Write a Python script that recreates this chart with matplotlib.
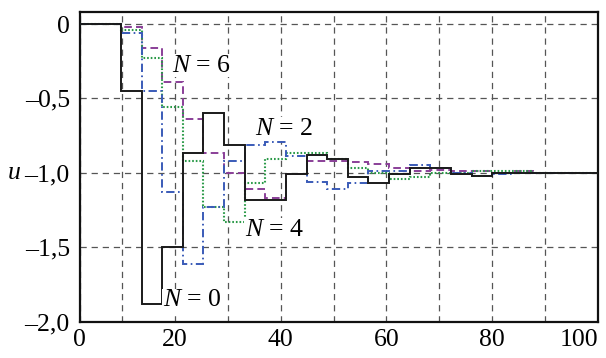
import matplotlib
matplotlib.use("Agg")
import matplotlib.pyplot as plt

plt.rcParams['font.family'] = 'Liberation Serif'
plt.rcParams['mathtext.fontset'] = 'custom'
plt.rcParams['mathtext.rm'] = 'Liberation Serif'
plt.rcParams['mathtext.it'] = 'Liberation Serif:italic'
plt.rcParams['lines.scale_dashes'] = False

# step edges (time) shared by all curves
edges = [2.0, 9.8, 13.7, 17.6, 21.5, 25.4, 29.3, 33.2, 37.1, 41.0, 44.9, 48.8,
         52.7, 56.6, 60.5, 64.4, 68.3, 72.2, 76.1, 80.0, 83.9, 87.8, 91.7, 95.6, 100.0]

u_n0 = [0, -0.45, -1.88, -1.50, -0.87, -0.60, -0.81, -1.18, -1.18, -1.01, -0.88, -0.91,
        -1.03, -1.065, -1.01, -0.97, -0.97, -1.01, -1.02, -1.0, -1.0, -1.0, -1.0, -1.0]
u_n2 = [0, -0.06, -0.45, -1.13, -1.61, -1.23, -0.92, -0.81, -0.79, -0.89, -1.06, -1.11,
        -1.07, -0.99, -0.99, -0.95, -0.97, -1.0, -1.02, -1.01, -1.0, -1.0, -1.0, -1.0]
u_n4 = [0, -0.04, -0.23, -0.56, -0.92, -1.23, -1.33, -1.07, -0.91, -0.87, -0.87, -0.91,
        -0.97, -1.0, -1.04, -1.03, -1.0, -1.0, -0.985, -0.985, -0.99, -1.0, -1.0, -1.0]
u_n6 = [0, -0.02, -0.16, -0.39, -0.64, -0.865, -1.0, -1.11, -1.17, -1.01, -0.92, -0.92,
        -0.93, -0.94, -0.97, -0.985, -0.98, -0.99, -0.99, -1.0, -0.99, -1.0, -1.0, -1.0]

labels = ['$N$ = 0', '$N$ = 2', '$N$ = 4', '$N$ = 6']
label_pos = [(17.7, -1.897), (35.1, -0.745), (33.2, -1.423), (19.4, -0.32)]

xticks = [1.98, 20, 40, 60, 80, 100]
xticklabels = ['0', '20', '40', '60', '80', '100']
yticks = [0, -0.5, -1.0, -1.5, -2.0]
yticklabels = ['0', '\u20130,5', '\u20131,0', '\u20131,5', '\u20132,0']

fig = plt.figure(figsize=(6.06, 3.58), dpi=100)
ax = fig.add_axes([0.1312, 0.1014, 0.8556, 0.8659])

ax.stairs(u_n6, edges, baseline=None, color='#8a3f98', lw=1.4,
          linestyle=(0, (5.5, 3)), zorder=3)
ax.stairs(u_n4, edges, baseline=None, color='#2a9a48', lw=1.5,
          linestyle=(0, (1.2, 1.4)), zorder=3)
ax.stairs(u_n2, edges, baseline=None, color='#3a5bb8', lw=1.4,
          linestyle=(0, (6, 2.5, 1.2, 2.5)), zorder=3)
ax.stairs(u_n0, edges, baseline=None, color='#1a1a1a', lw=1.4, zorder=4)

for txt, (x, y) in zip(labels, label_pos):
    ax.text(x, y, txt, fontsize=18.5, ha='left', va='baseline', zorder=5,
            bbox=dict(facecolor='white', edgecolor='none', pad=0.5))

ax.set_xlim(1.98, 100)
ax.set_ylim(-2.0, 0.0826)
ax.set_xticks(xticks)
ax.set_xticklabels(xticklabels)
ax.set_yticks(yticks)
ax.set_yticklabels(yticklabels)
ax.get_xticklabels()[-1].set_ha('right')
ax.set_xticks([10, 30, 50, 70, 90], minor=True)
ax.tick_params(which='both', length=0, labelsize=18.5)
ax.tick_params(axis='x', pad=5)
ax.tick_params(axis='y', pad=7)

ax.grid(True, which='both', color='#555555', lw=0.9, linestyle=(0, (4.5, 3.5)), zorder=1)
ax.set_axisbelow(True)

ax.set_ylabel('$u$', rotation=0, fontsize=18.5, va='center', ha='center')
ax.yaxis.set_label_coords((14 - 79.5) / 518.5, (321.7 - 173) / 310)

for s in ax.spines.values():
    s.set_linewidth(1.6)
    s.set_color('#111111')

fig.savefig('out.png', dpi=100)
